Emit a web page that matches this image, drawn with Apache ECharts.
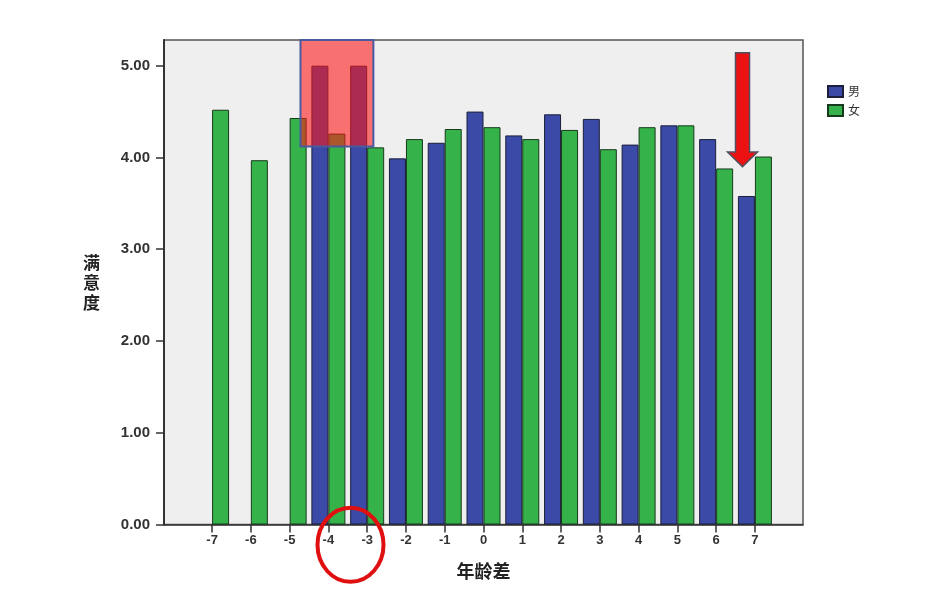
<!DOCTYPE html>
<html>
<head>
<meta charset="utf-8">
<script src="https://cdn.jsdelivr.net/npm/echarts@6/dist/echarts.min.js"></script>
<style>
html,body{margin:0;padding:0;background:#fff;}
#c{width:936px;height:606px;}
</style>
</head>
<body>
<div id="c"></div>
<script>
// ---- data ----
var ageDiff = [-7, -6, -5, -4, -3, -2, -1, 0, 1, 2, 3, 4, 5, 6, 7];
var maleAges = [-4, -3, -2, -1, 0, 1, 2, 3, 4, 5, 6, 7];
var maleValues = [5.00, 5.00, 3.99, 4.16, 4.50, 4.24, 4.47, 4.42, 4.14, 4.35, 4.20, 3.58];
var femaleAges = [-7, -6, -5, -4, -3, -2, -1, 0, 1, 2, 3, 4, 5, 6, 7];
var femaleValues = [4.52, 3.97, 4.43, 4.26, 4.11, 4.20, 4.31, 4.33, 4.20, 4.30, 4.09, 4.33, 4.35, 3.88, 4.01];
var yTicks = [0, 1, 2, 3, 4, 5];
var seriesNames = ['男', '女'];
// annotation anchors (data units)
var boxRange = [[-4.72, 4.12], [-2.84, 5.28]];
var arrowPts = { x: 6.68, top: 5.14, headBase: 4.06, tip: 3.90 };
var circleCenter = [-3.43, -0.2];

function pairs(xs, ys) { return xs.map(function (x, i) { return [x, ys[i]]; }); }

var chart = echarts.init(document.getElementById('c'), null, { renderer: 'canvas' });
var labelFont = 'Liberation Sans, Arial, sans-serif';
var option = {
  backgroundColor: '#ffffff',
  animation: false,
  grid: {
    left: 164, right: 133, top: 40, bottom: 81.5,
    show: true, backgroundColor: '#efefef', borderColor: '#555', borderWidth: 1.5
  },
  legend: {
    orient: 'vertical', left: 822, top: 80, itemWidth: 15, itemHeight: 11, itemGap: 6,
    icon: 'rect',
    data: seriesNames,
    textStyle: { fontSize: 12, color: '#333', fontFamily: 'Noto Sans CJK SC' }
  },
  xAxis: {
    type: 'value', min: -8.24, max: 8.24,
    name: '年龄差', nameLocation: 'middle', nameGap: 38,
    nameTextStyle: { fontSize: 18, fontWeight: 'bold', color: '#222', fontFamily: 'Noto Sans CJK SC' },
    axisLine: { show: true, onZero: false, lineStyle: { color: '#333', width: 1.5 } },
    axisTick: { show: true, length: 8, lineStyle: { color: '#333', width: 1.5 }, customValues: ageDiff },
    axisLabel: { customValues: ageDiff, margin: 9, fontSize: 13, color: '#333', fontWeight: 'bold', fontFamily: labelFont },
    splitLine: { show: false }
  },
  yAxis: {
    type: 'value', min: 0, max: 5.28, interval: 1,
    name: '满\n意\n度', nameLocation: 'middle', nameGap: 64, nameRotate: 0,
    nameTextStyle: { fontSize: 17, fontWeight: 'bold', color: '#222', lineHeight: 20, fontFamily: 'Noto Sans CJK SC' },
    axisLine: { show: true, onZero: false, lineStyle: { color: '#333', width: 2 } },
    axisTick: { show: true, length: 8, lineStyle: { color: '#333', width: 1.5 } },
    axisLabel: {
      margin: 14, fontSize: 15, color: '#333', fontWeight: 'bold', fontFamily: labelFont,
      showMaxLabel: false,
      formatter: function (v) { return yTicks.indexOf(v) >= 0 ? v.toFixed(2) : ''; }
    },
    splitLine: { show: false }
  },
  series: [
    {
      name: seriesNames[0], type: 'bar', barWidth: 17, barGap: '0%',
      itemStyle: { color: '#3a4aa6', borderColor: '#1b1f3a', borderWidth: 1 },
      data: pairs(maleAges, maleValues)
    },
    {
      name: seriesNames[1], type: 'bar', barWidth: 17, barGap: '0%',
      itemStyle: { color: '#35b34a', borderColor: '#173a1c', borderWidth: 1 },
      data: pairs(femaleAges, femaleValues)
    }
  ]
};
chart.setOption(option);

function px(p) { return chart.convertToPixel({ xAxisIndex: 0, yAxisIndex: 0 }, p); }
var b0 = px(boxRange[0]), b1 = px(boxRange[1]);
var aTop = px([arrowPts.x, arrowPts.top]), aBase = px([arrowPts.x, arrowPts.headBase]), aTip = px([arrowPts.x, arrowPts.tip]);
var cc = px(circleCenter);
var sw = 7, hw = 15;
chart.setOption({
  graphic: [
    {
      type: 'rect', z: 100,
      shape: { x: b0[0], y: b1[1], width: b1[0] - b0[0], height: b0[1] - b1[1] },
      style: { fill: 'rgba(255,20,20,0.58)', stroke: '#4a5aa0', lineWidth: 2 }
    },
    {
      type: 'polygon', z: 100,
      shape: { points: [
        [aTop[0] - sw, aTop[1]], [aTop[0] + sw, aTop[1]], [aTop[0] + sw, aBase[1]],
        [aTop[0] + hw, aBase[1]], [aTip[0], aTip[1]], [aTop[0] - hw, aBase[1]], [aTop[0] - sw, aBase[1]]
      ] },
      style: { fill: '#ec1212', stroke: '#505060', lineWidth: 1.5 }
    },
    {
      type: 'ellipse', z: 100,
      shape: { cx: cc[0], cy: cc[1] + 2, rx: 33, ry: 37 },
      style: { fill: 'none', stroke: '#e01010', lineWidth: 4 }
    }
  ]
});
</script>
</body>
</html>
